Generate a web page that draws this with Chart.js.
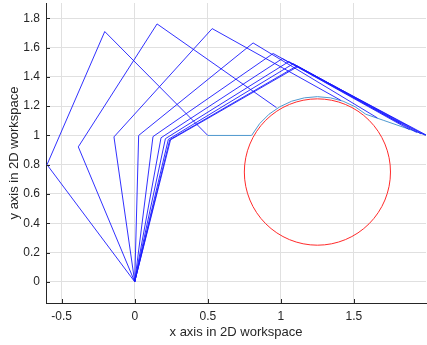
<!DOCTYPE html>
<html>
<head>
<meta charset="utf-8">
<script src="https://cdn.jsdelivr.net/npm/chart.js@4.4.1/dist/chart.umd.min.js"></script>
<style>
  html, body { margin: 0; padding: 0; background: #ffffff; }
  #wrap { width: 427px; height: 345px; }
</style>
</head>
<body>
<div id="wrap"><canvas id="arm" width="427" height="345"></canvas></div>
<script>
// Axis ticks
const xTicks = [-0.5, 0, 0.5, 1, 1.5];
const yTicks = [0, 0.2, 0.4, 0.6, 0.8, 1, 1.2, 1.4, 1.6, 1.8];

// Arm poses: base at the origin, then elbow, wrist and tip for each snapshot
const baseX = 0;
const baseY = 0;
const elbowX = [-0.6, -0.386, -0.142, 0.027, 0.125, 0.18, 0.21, 0.23, 0.24, 0.245];
const elbowY = [0.8, 0.922, 0.99, 1.0, 0.992, 0.984, 0.978, 0.973, 0.971, 0.97];
const wristX = [-0.205, 0.153, 0.53, 0.81, 0.947, 1.01, 1.055, 1.085, 1.11, 1.115];
const wristY = [1.71, 1.762, 1.73, 1.632, 1.56, 1.525, 1.505, 1.49, 1.475, 1.47];
const tipX = [0.5, 0.97, 1.41, 1.66, 1.82, 1.88, 1.93, 1.96, 1.99, 2.0];
const tipY = [1.0, 1.19, 1.24, 1.12, 1.08, 1.04, 1.02, 1.01, 1.0, 1.0];

// End-effector path around the obstacle
const pathX = [0.5, 0.8, 0.855, 0.919, 0.993, 1.074, 1.161, 1.25, 1.339, 1.426, 1.508, 1.581, 1.7, 1.85, 2.0];
const pathY = [1.0, 1.0, 1.081, 1.145, 1.196, 1.234, 1.257, 1.265, 1.257, 1.234, 1.196, 1.145, 1.104, 1.052, 1.0];

// Circular obstacle
const obstacleX = [1.25];
const obstacleY = [0.75];
const obstacleR = [0.5];

const axisColor = "#262626";
const gridColor = "#e0e0e0";
const font = { family: "'Liberation Sans', Arial, sans-serif" };

const armDatasets = elbowX.map((ex, i) => ({
  data: [
    { x: baseX, y: baseY },
    { x: ex, y: elbowY[i] },
    { x: wristX[i], y: wristY[i] },
    { x: tipX[i], y: tipY[i] },
  ],
  showLine: true,
  borderColor: "#1a1aff",
  borderWidth: 0.9,
  pointRadius: 0,
  order: 1,
}));

const pathDataset = {
  data: pathX.map((x, i) => ({ x, y: pathY[i] })),
  showLine: true,
  borderColor: "#4f98cf",
  borderWidth: 1,
  pointRadius: 0,
  order: 2,
};

// Obstacle circle, sized in data units through the scales
const obstaclePlugin = {
  id: "obstacle",
  beforeDatasetsDraw(chart) {
    const { ctx, chartArea, scales } = chart;
    ctx.save();
    ctx.beginPath();
    ctx.rect(chartArea.left, chartArea.top, chartArea.width, chartArea.height);
    ctx.clip();
    ctx.strokeStyle = "#ff2a2a";
    ctx.lineWidth = 1;
    obstacleX.forEach((cx, i) => {
      const px = scales.x.getPixelForValue(cx);
      const py = scales.y.getPixelForValue(obstacleY[i]);
      const rx = Math.abs(scales.x.getPixelForValue(cx + obstacleR[i]) - px);
      const ry = Math.abs(scales.y.getPixelForValue(obstacleY[i] + obstacleR[i]) - py);
      ctx.beginPath();
      ctx.ellipse(px, py, rx, ry, 0, 0, Math.PI * 2);
      ctx.stroke();
    });
    ctx.restore();
  },
};

// Short inward tick marks on the bottom and left axes
const tickMarkPlugin = {
  id: "tickMarks",
  afterDraw(chart) {
    const { ctx, chartArea, scales } = chart;
    ctx.save();
    ctx.strokeStyle = axisColor;
    ctx.lineWidth = 1;
    ctx.beginPath();
    xTicks.forEach((v) => {
      const px = Math.round(scales.x.getPixelForValue(v)) + 0.5;
      ctx.moveTo(px, chartArea.bottom);
      ctx.lineTo(px, chartArea.bottom - 4);
    });
    yTicks.forEach((v) => {
      const py = Math.round(scales.y.getPixelForValue(v)) + 0.5;
      ctx.moveTo(chartArea.left, py);
      ctx.lineTo(chartArea.left + 4, py);
    });
    ctx.stroke();
    ctx.restore();
  },
};

new Chart(document.getElementById("arm"), {
  type: "scatter",
  data: { datasets: [pathDataset, ...armDatasets] },
  options: {
    responsive: false,
    animation: false,
    events: [],
    layout: { padding: { top: 3, right: 1, left: 0, bottom: 0 } },
    plugins: {
      legend: { display: false },
      tooltip: { enabled: false },
    },
    scales: {
      x: {
        type: "linear",
        min: -0.607,
        max: 1.993,
        afterBuildTicks: (scale) => {
          scale.ticks = xTicks.map((value) => ({ value }));
        },
        afterFit: (scale) => {
          scale.height = 42;
          scale.paddingLeft = 0;
          scale.paddingRight = 0;
        },
        grid: { color: gridColor, drawTicks: false },
        border: { color: axisColor, width: 1 },
        ticks: {
          padding: 6,
          color: axisColor,
          font: { ...font, size: 12 },
          maxRotation: 0,
          callback: (v) => String(v),
        },
        title: {
          display: true,
          text: "x axis in 2D workspace",
          color: axisColor,
          font: { ...font, size: 13 },
          padding: { top: 0, bottom: 5 },
        },
      },
      y: {
        type: "linear",
        min: -0.145,
        max: 1.905,
        afterBuildTicks: (scale) => {
          scale.ticks = yTicks.map((value) => ({ value }));
        },
        afterFit: (scale) => {
          scale.width = 46;
          scale.paddingTop = 0;
          scale.paddingBottom = 0;
        },
        grid: { color: gridColor, drawTicks: false },
        border: { color: axisColor, width: 1 },
        ticks: {
          padding: 6,
          color: axisColor,
          font: { ...font, size: 12 },
          callback: (v) => String(v),
        },
        title: {
          display: true,
          text: "y axis in 2D workspace",
          color: axisColor,
          font: { ...font, size: 13 },
          padding: { top: 7, bottom: 0 },
        },
      },
    },
  },
  plugins: [obstaclePlugin, tickMarkPlugin],
});
</script>
</body>
</html>
